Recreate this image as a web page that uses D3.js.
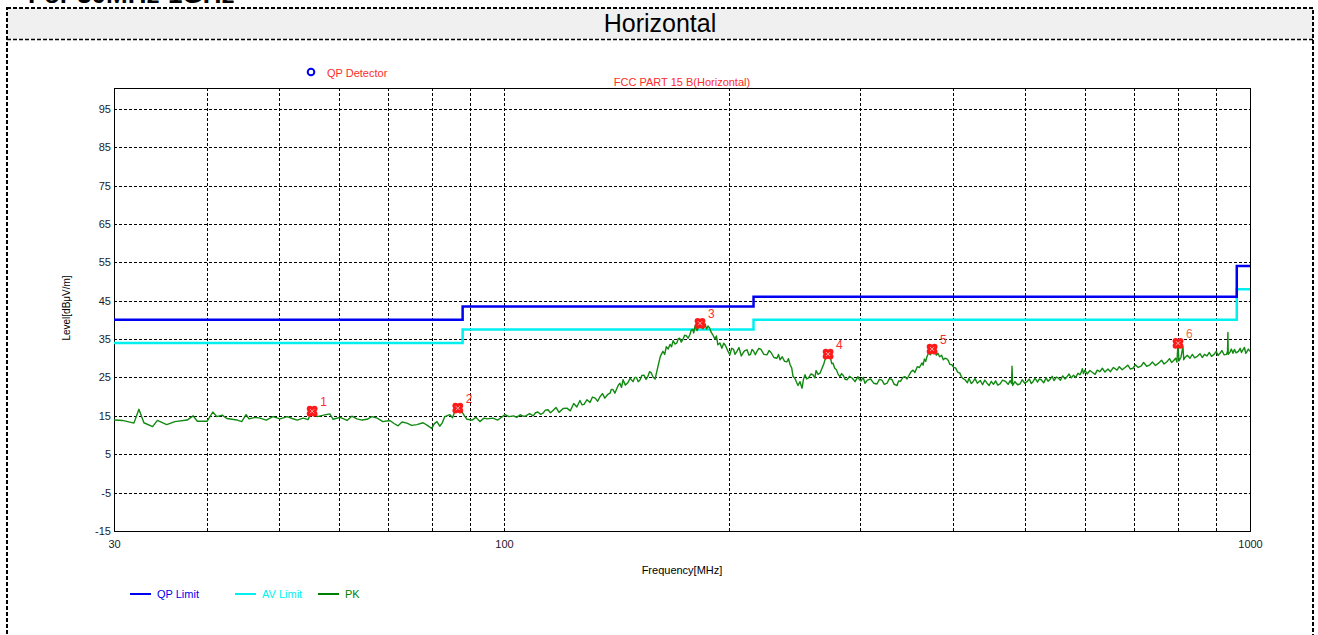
<!DOCTYPE html>
<html>
<head>
<meta charset="utf-8">
<script src="https://cdn.jsdelivr.net/npm/d3@7"></script>
<style>
    body { margin: 0; background: #fff; }
    svg { display: block; font-family: 'Liberation Sans', Arial, sans-serif; }
</style>
</head>
<body>
<svg id="chart" width="1318" height="635"></svg>
<script>

// limit lines (step after each break frequency)
const limitFreqs = [30, 88, 216, 960, 1000]
const qpLimit = [40, 43.5, 46, 54, 54]
const avLimit = [34, 37.5, 40, 48, 48]

// peak scan, [MHz, dBuV/m]
const pkTrace = [
    [30.0, 14.0], [30.1, 13.9], [30.8, 13.8], [31.9, 13.1], [32.4, 16.7], [32.9, 13.2], [33.8, 12.2], [34.3, 13.8],
    [35.3, 12.7], [36.2, 13.5], [37.6, 13.9], [38.3, 15.0], [38.8, 13.6], [40.0, 13.6], [40.7, 16.0], [41.2, 14.8],
    [41.9, 15.2], [42.5, 14.3], [43.9, 13.9], [44.5, 13.5], [45.1, 15.3], [45.5, 14.2], [46.4, 14.6], [47.1, 14.4],
    [48.0, 13.9], [49.0, 14.8], [50.1, 14.2], [51.2, 14.8], [52.0, 14.3], [52.8, 13.9], [53.8, 14.4], [54.6, 14.0],
    [55.3, 16.2], [56.2, 14.8], [57.3, 15.2], [58.4, 15.5], [59.0, 14.1], [60.3, 14.6], [61.6, 13.8], [62.5, 14.9],
    [63.5, 14.2], [64.5, 13.9], [65.5, 14.1], [66.5, 14.8], [67.6, 14.4], [68.8, 13.5], [70.3, 13.8], [71.2, 13.0],
    [72.1, 12.4], [73.0, 13.4], [74.1, 13.1], [75.2, 12.5], [76.4, 12.7], [77.9, 13.2], [79.1, 12.4], [80.0, 11.7],
    [80.6, 12.9], [81.3, 13.5], [82.0, 12.3], [82.6, 13.1], [83.3, 14.8], [84.6, 15.3], [85.3, 14.5], [86.0, 16.4],
    [86.7, 17.0], [87.8, 16.1], [88.5, 15.0], [89.2, 14.1], [90.6, 13.9], [91.7, 14.6], [92.8, 13.5], [94.0, 14.4],
    [94.9, 14.2], [96.6, 14.4], [98.1, 13.9], [100.3, 15.3], [101.5, 14.8], [103, 15.0], [104, 14.6], [105.1, 15.3],
    [106, 14.9], [107, 15.0], [108.2, 15.6], [109.4, 15.0], [110.2, 15.8], [111, 16.0], [111.9, 15.4], [112.8, 15.7],
    [113.6, 16.5], [114.5, 16.6], [115.4, 15.8], [116.3, 16.4], [117.4, 17.2], [118.5, 15.9], [120, 16.9],
    [121.4, 17.0], [122.7, 16.3], [124, 18.2], [125.2, 17.3], [126.4, 19.0], [127.2, 17.9], [128, 18.0],
    [129.2, 19.2], [130.4, 18.5], [131.4, 19.9], [132.5, 19.6], [133.5, 18.8], [134.5, 20.0], [135.5, 20.8],
    [136.5, 19.6], [137.6, 20.5], [138.7, 20.9], [139.3, 21.9], [140, 21.8], [140.8, 20.9], [141.7, 22.2],
    [142.3, 23.0], [143, 23.5], [143.7, 22.4], [144.4, 24.4], [145.4, 23.0], [146.5, 23.6], [147.6, 24.8],
    [148.9, 23.9], [149.7, 25.0], [150.5, 25.0], [151.3, 23.9], [152.2, 24.4], [153, 25.5], [154, 25.6],
    [155, 24.5], [155.9, 25.3], [156.7, 26.5], [157.5, 26.2], [158.4, 25.1], [159.4, 24.6], [160.8, 27.8],
    [162, 30.5], [163.3, 31.8], [164.2, 31.0], [165, 33.0], [166, 32.4], [166.9, 33.6], [167.7, 33.0],
    [168.5, 34.6], [169.5, 33.7], [170.5, 34.0], [171.2, 35.1], [172, 35.2], [172.8, 34.2], [173.7, 34.9],
    [174.6, 36.0], [175.5, 35.9], [176.5, 35.2], [177.5, 36.2], [178.2, 37.3], [179, 37.5], [179.6, 36.6],
    [180.3, 38.4], [181.5, 37.2], [182.3, 38.6], [183.1, 39.1], [184, 38.5], [184.8, 37.7], [186, 39.0],
    [186.8, 37.6], [187.7, 38.4], [188.6, 37.9], [189.5, 36.8], [190.6, 36.0], [191.8, 35.0], [192.6, 35.8],
    [193.5, 33.5], [194.7, 34.0], [195.9, 32.6], [197, 33.9], [198, 33.4], [199.4, 32.0], [200.8, 30.9],
    [201.9, 32.6], [203, 32.4], [204, 31.0], [205.2, 31.8], [206.5, 32.8], [208, 30.6], [210, 31.9],
    [211.7, 32.2], [213, 30.8], [214, 31.0], [215, 32.3], [216, 31.9], [217.2, 30.9], [218.3, 31.8],
    [219.6, 32.6], [221, 32.3], [223, 31.0], [225.2, 30.9], [226.6, 32.0], [228, 31.5], [230, 30.2],
    [232.2, 30.0], [233.3, 31.0], [234.4, 29.6], [236, 30.4], [237.7, 29.2], [239.5, 29.1], [240.6, 29.9],
    [241.8, 28.3], [243, 27.5], [244.0, 25.3], [245.5, 24.7], [246.6, 23.8], [247.8, 22.9], [249.3, 23.9],
    [250.9, 22.2], [252, 24.5], [253.2, 25.7], [254.5, 24.6], [256, 24.9], [257.8, 25.9], [259.5, 25.7],
    [261, 24.9], [262, 26.8], [263.6, 25.8], [265.2, 26.1], [267, 27.5], [268.2, 28.4], [269.3, 29.6],
    [270.5, 30.3], [271.9, 31.1], [273, 30.0], [274, 29.9], [275, 28.6], [276.1, 28.7], [277.5, 27.4],
    [279, 27.0], [280.5, 25.8], [282.0, 25.2], [283.5, 26.0], [285, 25.5], [286.6, 24.5], [288.2, 24.4],
    [290.5, 25.3], [293, 24.8], [295.5, 23.9], [298.1, 25.2], [299.5, 24.4], [301, 24.1], [303, 25.0],
    [304.7, 23.5], [307, 24.3], [310, 24.6], [313, 23.5], [316.2, 23.3], [318.5, 24.5], [321, 24.3],
    [323.5, 23.2], [326.2, 23.5], [328.5, 24.7], [331, 24.5], [333.5, 23.2], [336.4, 22.9], [338, 24.1],
    [340, 24.0], [342.5, 25.0], [344.8, 25.2], [347, 24.6], [349, 25.5], [351, 26.4], [353.4, 26.9],
    [355.5, 26.3], [358, 27.8], [360.5, 27.6], [363.3, 28.8], [364.6, 28.2], [366, 29.8], [367.5, 29.2],
    [368.9, 30.4], [371, 31.5], [373, 30.9], [374.8, 32.4], [376.3, 31.2], [378, 31.8], [379.8, 30.8],
    [381.6, 31.3], [383.7, 30.4], [386, 30.8], [388, 29.6], [390.0, 30.0], [392, 29.9], [394, 29.4],
    [396, 28.4], [398.5, 28.3], [400.6, 27.6], [403, 27.5], [405.5, 26.4], [408.5, 26.1], [410, 25.3],
    [411, 25.0], [413, 24.6], [414.9, 24.4], [418, 23.6], [420, 24.8], [423, 23.4], [425.3, 23.9],
    [428, 24.7], [431, 23.5], [435, 24.2], [438, 23.1], [441, 24.3], [444.1, 23.5], [447, 22.9], [450, 24.0],
    [453, 23.2], [456, 24.1], [459, 23.0], [462.3, 23.3], [466, 24.3], [470, 24.0], [474, 23.2], [477, 24.2],
    [479.0, 23.4], [479.7, 27.9], [480.7, 22.9], [484, 23.9], [488, 23.1], [491.6, 23.3], [495, 24.4],
    [499, 23.5], [502.4, 23.9], [506, 24.6], [509, 23.4], [511.8, 23.9], [515, 24.8], [519, 23.8], [522, 24.6],
    [525, 24.4], [529, 23.6], [533, 24.9], [536, 24.0], [539.5, 24.5], [543, 25.3], [546, 24.2], [550, 25.1],
    [553, 24.9], [557, 24.3], [561, 25.4], [565, 24.6], [568.5, 25.2], [572, 25.9], [576, 24.9], [580, 25.6],
    [584, 25.0], [588, 26.1], [591.6, 25.7], [594, 26.4], [596, 27.3], [598, 26.0], [600.8, 26.9], [605, 25.9],
    [610, 26.8], [615, 26.3], [620, 25.8], [624, 26.9], [629.2, 26.5], [634, 27.4], [639, 26.4], [645, 27.2],
    [650, 26.5], [656, 27.6], [663.4, 26.9], [668, 27.8], [674, 27.0], [680, 27.6], [686, 28.2], [691, 27.2],
    [696.9, 27.4], [702, 28.3], [708, 27.6], [715, 28.0], [720, 28.9], [727, 27.9], [734.2, 28.3], [740, 29.0],
    [747, 28.1], [755, 28.8], [761, 29.5], [767, 28.5], [773.7, 29.1], [780, 29.9], [785, 28.9], [790, 29.4],
    [795, 30.0], [798.0, 29.0], [800.8, 33.9], [803, 29.3], [808, 30.2], [813.0, 33.1], [815, 29.6], [818, 30.2],
    [824, 30.8], [830.9, 30.0], [837, 31.0], [843, 30.1], [850, 30.5], [857, 31.2], [863, 30.2], [869, 31.0],
    [875.8, 30.6], [882, 31.5], [888, 30.5], [895, 31.0], [901, 31.8], [906, 30.7], [911.6, 31.3], [917, 32.0],
    [923, 30.9], [930, 31.0], [933, 31.8], [934.1, 36.7], [935, 31.0], [940, 31.6], [944, 32.4], [948.7, 31.3],
    [953, 32.3], [958, 31.4], [965, 31.8], [970, 32.6], [974, 31.5], [978.3, 32.2], [983, 32.8], [987, 31.3],
    [990, 31.6], [995, 32.4], [1000, 31.8]
]

// QP detector markers
const markerFreqs = [55.3, 86.7, 183.1, 271.9, 374.8, 800.8]
const markerLevels = [16.2, 17.0, 39.1, 31.1, 32.4, 33.9]
const markerLabels = ['1', '2', '3', '4', '5', '6']

const yTicks = [-15, -5, 5, 15, 25, 35, 45, 55, 65, 75, 85, 95]
const xGrid = [40, 50, 60, 70, 80, 90, 100, 200, 300, 400, 500, 600, 700, 800, 900]
const xLabels = [30, 100, 1000]

const legendItems = [
    { name: 'QP Limit', color: '#0000f0' },
    { name: 'AV Limit', color: '#00f0f0' },
    { name: 'PK', color: '#008000' }
]

const svg = d3.select('#chart')
const plot = { left: 114, right: 1250, top: 88, bottom: 531 }

const x = d3.scaleLog()
    .domain([30, 1000])
    .range([plot.left, plot.right])

const y = d3.scaleLinear()
    .domain([-15, 100.4])
    .range([plot.bottom, plot.top])

// page frame and header band
svg.append('text')
    .text('For 30MHz-1GHz')
    .attr('x', 28)
    .attr('y', 3)
    .attr('font-size', '26px')
    .attr('font-weight', 'bold')

svg.append('rect')
    .attr('x', 7).attr('y', 8)
    .attr('width', 1306).attr('height', 31)
    .attr('fill', '#f0f0f0')

svg.append('rect')
    .attr('x', 7).attr('y', 8)
    .attr('width', 1306).attr('height', 660)
    .attr('fill', 'none')
    .attr('stroke', '#000')
    .attr('stroke-width', 2)
    .attr('stroke-dasharray', '4,2')

svg.append('line')
    .attr('x1', 7).attr('x2', 1313)
    .attr('y1', 39.5).attr('y2', 39.5)
    .attr('stroke', '#000')
    .attr('stroke-width', 1.5)
    .attr('stroke-dasharray', '4,2')

svg.append('text')
    .text('Horizontal')
    .attr('x', 660)
    .attr('y', 32)
    .attr('text-anchor', 'middle')
    .attr('font-size', '25px')

// grid
const grid = svg.append('g')
    .attr('stroke', '#000')
    .attr('stroke-width', 1)
    .attr('stroke-dasharray', '3,2')

grid.selectAll('line.h')
    .data(yTicks.slice(1))
    .join('line')
    .attr('x1', plot.left).attr('x2', plot.right)
    .attr('y1', d => Math.round(y(d)) + 0.5)
    .attr('y2', d => Math.round(y(d)) + 0.5)

grid.selectAll('line.v')
    .data(xGrid)
    .join('line')
    .attr('x1', d => Math.round(x(d)) + 0.5)
    .attr('x2', d => Math.round(x(d)) + 0.5)
    .attr('y1', plot.top).attr('y2', plot.bottom)

svg.append('rect')
    .attr('x', plot.left + 0.5).attr('y', plot.top + 0.5)
    .attr('width', plot.right - plot.left).attr('height', plot.bottom - plot.top)
    .attr('fill', 'none')
    .attr('stroke', '#000')
    .attr('stroke-width', 1)

// axes labels
const yAxis = d3.axisLeft(y).tickValues(yTicks).tickFormat(d => String(d)).tickSize(0).tickPadding(3)
svg.append('g')
    .attr('transform', `translate(${plot.left}, 0)`)
    .call(yAxis)
    .call(g => g.select('.domain').remove())
    .call(g => g.selectAll('text')
        .attr('font-size', '11px')
        .attr('font-family', 'Liberation Sans, Arial, sans-serif')
        .attr('fill', '#1a1a2a'))

const xAxis = d3.axisBottom(x).tickValues(xLabels).tickFormat(d => String(d)).tickSize(0).tickPadding(9)
svg.append('g')
    .attr('transform', `translate(0, ${plot.bottom})`)
    .call(xAxis)
    .call(g => g.select('.domain').remove())
    .call(g => g.selectAll('text')
        .attr('font-size', '11px')
        .attr('font-family', 'Liberation Sans, Arial, sans-serif')
        .attr('fill', '#1a1a2a'))

svg.append('text')
    .text('Level[dBμV/m]')
    .attr('transform', 'translate(70, 308) rotate(-90)')
    .attr('text-anchor', 'middle')
    .attr('font-size', '10px')

svg.append('text')
    .text('Frequency[MHz]')
    .attr('x', 682)
    .attr('y', 574)
    .attr('text-anchor', 'middle')
    .attr('font-size', '11px')

// titles above the plot
svg.append('circle')
    .attr('cx', 311).attr('cy', 72).attr('r', 3.3)
    .attr('fill', 'none')
    .attr('stroke', '#0000f0')
    .attr('stroke-width', 2)

svg.append('text')
    .text('QP Detector')
    .attr('x', 327).attr('y', 77)
    .attr('font-size', '11px')
    .attr('fill', '#ff2a2a')

svg.append('text')
    .text('FCC PART 15 B(Horizontal)')
    .attr('x', 682).attr('y', 86)
    .attr('text-anchor', 'middle')
    .attr('font-size', '11px')
    .attr('fill', '#ff2a2a')

// traces
const stepLine = d3.line()
    .x(d => x(d[0]))
    .y(d => y(d[1]))
    .curve(d3.curveStepAfter)

svg.append('path')
    .datum(limitFreqs.map((f, i) => [f, avLimit[i]]))
    .attr('d', stepLine)
    .attr('fill', 'none')
    .attr('stroke', '#00f0f0')
    .attr('stroke-width', 2.5)

svg.append('path')
    .datum(limitFreqs.map((f, i) => [f, qpLimit[i]]))
    .attr('d', stepLine)
    .attr('fill', 'none')
    .attr('stroke', '#0000f0')
    .attr('stroke-width', 2.5)

const pkLine = d3.line()
    .x(d => x(d[0]))
    .y(d => y(d[1]))

svg.append('path')
    .datum(pkTrace)
    .attr('d', pkLine)
    .attr('fill', 'none')
    .attr('stroke', '#108a10')
    .attr('stroke-width', 1.4)
    .attr('stroke-linejoin', 'round')

// markers
const markers = svg.selectAll('g.marker')
    .data(markerFreqs.map((f, i) => ({ f, v: markerLevels[i], label: markerLabels[i] })))
    .join('g')
    .attr('class', 'marker')
    .attr('transform', d => `translate(${x(d.f)}, ${y(d.v)})`)

markers.selectAll('circle')
    .data([[-2.4, -2.4], [2.4, -2.4], [-2.4, 2.4], [2.4, 2.4]])
    .join('circle')
    .attr('cx', d => d[0]).attr('cy', d => d[1]).attr('r', 3)
    .attr('fill', '#ff1a1a')

markers.append('path')
    .attr('d', 'M-2,-2L2,2M2,-2L-2,2')
    .attr('stroke', '#ffd0d0')
    .attr('stroke-width', 0.8)

markers.append('text')
    .text(d => d.label)
    .attr('x', 8).attr('y', -5)
    .attr('font-size', '12px')
    .attr('fill', d => d.label === '6' ? '#f0704a' : '#ff2a2a')

// bottom legend
const legend = svg.selectAll('g.legend')
    .data(legendItems)
    .join('g')
    .attr('class', 'legend')
    .attr('transform', (d, i) => `translate(${[130, 235, 318][i]}, 594)`)

legend.append('line')
    .attr('x1', 0).attr('x2', 21)
    .attr('stroke', d => d.color)
    .attr('stroke-width', 2)

legend.append('text')
    .text(d => d.name)
    .attr('x', 27).attr('y', 4)
    .attr('font-size', '11px')
    .attr('fill', d => d.color)

</script>
</body>
</html>
